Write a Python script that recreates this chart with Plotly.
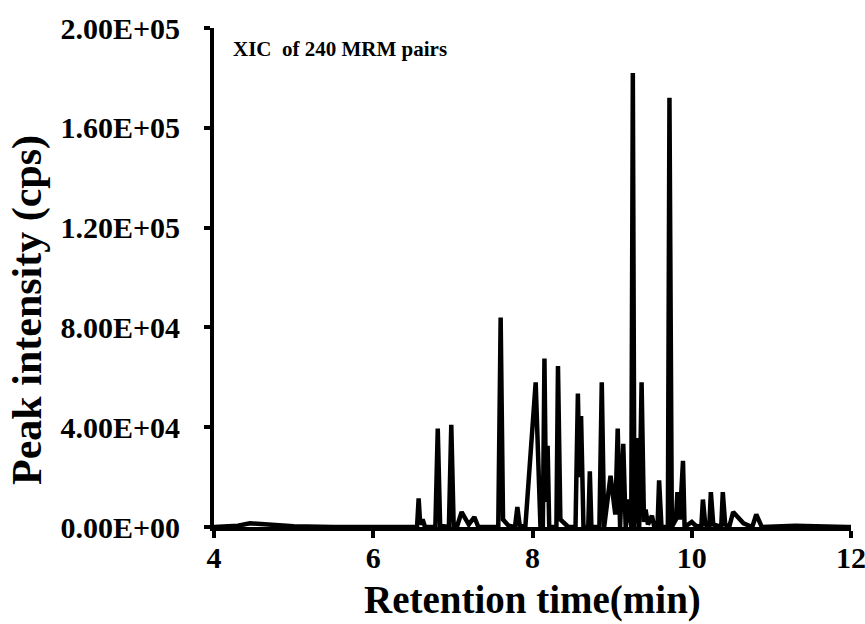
import plotly.graph_objects as go

# Retention time (min) and intensity (cps) points
rt = [4.0, 4.3, 4.45, 4.7, 5.0, 5.5, 6.0, 6.5, 6.55, 6.57, 6.59, 6.62, 6.65,
      6.78, 6.81, 6.84, 6.95, 6.98, 7.01, 7.05, 7.11, 7.2, 7.27, 7.32,
      7.57, 7.60, 7.63, 7.7, 7.78, 7.81, 7.84, 7.91, 8.04, 8.10,
      8.13, 8.15, 8.17, 8.19, 8.21, 8.30, 8.32, 8.35, 8.45,
      8.54, 8.57, 8.59, 8.61, 8.64, 8.70, 8.72, 8.74, 8.84, 8.87, 8.90,
      8.98, 9.04, 9.07, 9.10, 9.14, 9.17, 9.21, 9.24, 9.26, 9.28,
      9.31, 9.34, 9.37, 9.40, 9.42, 9.45, 9.50, 9.53, 9.57, 9.59, 9.62,
      9.70, 9.72, 9.75, 9.80, 9.82, 9.85, 9.89, 9.91, 10.0, 10.05,
      10.12, 10.14, 10.17, 10.22, 10.24, 10.27, 10.37, 10.39, 10.42,
      10.47, 10.52, 10.65, 10.76, 10.81, 10.88, 11.3, 11.95, 12.0]
intensity = [0, 500, 1500, 1000, 300, 0, 200, 0, 0, 11500, 1000, 3000, 0,
             0, 39500, 500, 0, 41000, 500, 0, 6000, 1000, 4000, 0,
             0, 84000, 3000, 500, 0, 8000, 500, 0, 58000, 0,
             0, 67500, 10000, 32500, 0, 0, 64500, 3000, 0,
             0, 53500, 20000, 44500, 0, 0, 22300, 0, 0, 58000, 0,
             20500, 5000, 39500, 0, 33300, 0, 11000, 0, 182000, 0,
             35600, 0, 58000, 2000, 7000, 1000, 4500, 0, 0, 18700, 0,
             0, 172000, 0, 3000, 14000, 3000, 26500, 0, 2000, 500,
             0, 11000, 1000, 0, 14000, 1000, 0, 14000, 1000,
             0, 6000, 1500, 0, 5000, 0, 500, 0, 0]

x_ticks = [4, 6, 8, 10, 12]
y_ticks = [0, 40000, 80000, 120000, 160000, 200000]
y_tick_labels = ["0.00E+00", "4.00E+04", "8.00E+04", "1.20E+05", "1.60E+05", "2.00E+05"]

FONT = "Liberation Serif, Times New Roman, serif"

fig = go.Figure()
fig.add_trace(go.Scatter(x=rt, y=intensity, mode="lines",
                         line=dict(color="black", width=4.5), showlegend=False))

fig.update_layout(
    width=865, height=624,
    margin=dict(l=214, r=14, t=28, b=97),
    plot_bgcolor="white", paper_bgcolor="white",
    font=dict(family=FONT, color="black"),
    xaxis=dict(range=[4, 12], tickvals=x_ticks, ticktext=[str(v) for v in x_ticks],
               showgrid=False, zeroline=False, showline=True, linecolor="black",
               linewidth=4, ticks="outside", ticklen=7, tickwidth=4, tickcolor="black",
               automargin=False, ticklabeloverflow="allow", ticklabelstandoff=-6,
               tickfont=dict(family=FONT, size=30, color="black", weight="bold")),
    yaxis=dict(range=[0, 200000], tickvals=y_ticks, ticktext=y_tick_labels,
               showgrid=False, zeroline=False, showline=True, linecolor="black",
               linewidth=4, ticks="outside", ticklen=6, tickwidth=4, tickcolor="black",
               automargin=False, ticklabelstandoff=18, ticklabeloverflow="allow",
               tickfont=dict(family=FONT, size=30, color="black", weight="bold")),
    annotations=[
        dict(text="XIC  of 240 MRM pairs", x=0.027, y=0.985,
             xref="paper", yref="paper", xanchor="left", yanchor="top",
             showarrow=False,
             font=dict(family=FONT, size=21, color="black", weight="bold")),
        dict(text="Retention time(min)", x=0.5, y=0, xref="paper", yref="paper",
             xanchor="center", yanchor="middle", yshift=-73, showarrow=False,
             font=dict(family=FONT, size=39, color="black", weight="bold")),
        dict(text="Peak intensity (cps)", x=0, y=0.435, xref="paper", yref="paper",
             xanchor="center", yanchor="middle", xshift=-186, textangle=-90,
             showarrow=False,
             font=dict(family=FONT, size=42, color="black", weight="bold")),
    ],
)

fig.write_html("out.html")
